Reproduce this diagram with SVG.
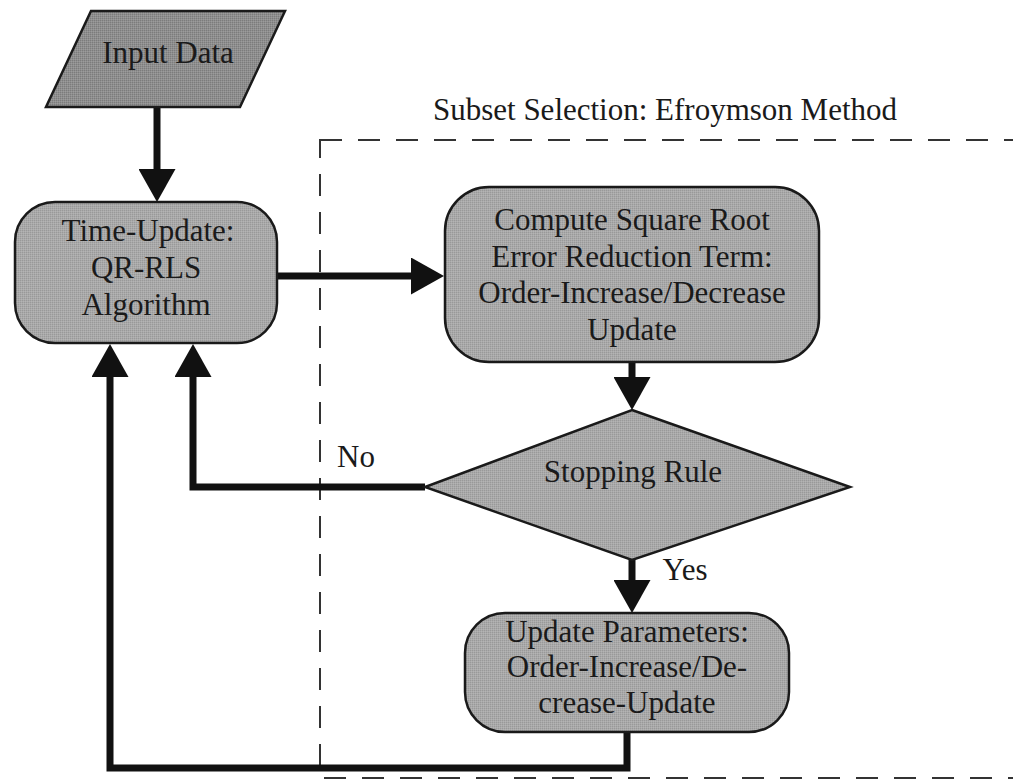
<svg xmlns="http://www.w3.org/2000/svg" width="1013" height="784" viewBox="0 0 1013 784">
  <style>
    .node { fill: url(#grain); stroke: #1a1a1a; stroke-width: 2.5; }
    .dark { fill: url(#grainDark); }
    .lbl { font-family: "Liberation Serif", "Times New Roman", serif; font-size: 31px; fill: #1a1a1a; text-anchor: middle; }
    .edge { fill: none; stroke: #111; stroke-width: 7; stroke-linejoin: miter; }
    .frame { fill: none; stroke: #333; stroke-width: 2; stroke-dasharray: 22 16; }
  </style>
  <defs>
    <!-- halftone-like grey fills -->
    <pattern id="grain" width="2" height="2" patternUnits="userSpaceOnUse">
      <rect width="2" height="2" fill="#a9a9a9"/>
      <rect width="1" height="1" fill="#999999"/>
      <rect x="1" y="1" width="1" height="1" fill="#b4b4b4"/>
    </pattern>
    <pattern id="grainDark" width="2" height="2" patternUnits="userSpaceOnUse">
      <rect width="2" height="2" fill="#8e8e8e"/>
      <rect width="1" height="1" fill="#7c7c7c"/>
      <rect x="1" y="1" width="1" height="1" fill="#9c9c9c"/>
    </pattern>
    <marker id="head" viewBox="0 0 33 37" refX="13" refY="18.5" markerWidth="33" markerHeight="37" markerUnits="userSpaceOnUse" orient="auto">
      <path d="M0,0 L33,18.5 L0,37 Z" fill="#111"/>
    </marker>
  </defs>

  <rect width="1013" height="784" fill="#ffffff"/>

  <!-- subset selection frame -->
  <g id="subset-frame">
    <rect class="frame" x="320" y="140" width="720" height="638"/>
    <text class="lbl" x="665" y="120" font-size="33">Subset Selection: Efroymson Method</text>
  </g>

  <!-- connectors (paths stop 20px short; the marker carries the tip) -->
  <g id="connectors">
    <path class="edge" d="M157,107 V182" marker-end="url(#head)"/>
    <path class="edge" d="M277,276 H424" marker-end="url(#head)"/>
    <path class="edge" d="M632,362 V390" marker-end="url(#head)"/>
    <path class="edge" d="M425,487 H193 V364" marker-end="url(#head)"/>
    <path class="edge" d="M632,560 V593" marker-end="url(#head)"/>
    <path class="edge" d="M627,732 V768 H110 V364" marker-end="url(#head)"/>
    <text class="lbl" x="356" y="467" font-size="30">No</text>
    <text class="lbl" x="685" y="580" font-size="29">Yes</text>
  </g>

  <g id="input-data">
    <polygon class="node dark" points="91,11 285,11 240,107 46,107"/>
    <text class="lbl" x="168" y="63">Input Data</text>
  </g>

  <g id="time-update">
    <rect class="node" x="15" y="202" width="262" height="141" rx="40"/>
    <text class="lbl" x="148" y="241" font-size="32">Time-Update:</text>
    <text class="lbl" x="146" y="278" font-size="32">QR-RLS</text>
    <text class="lbl" x="146" y="315" font-size="32">Algorithm</text>
  </g>

  <g id="error-reduction">
    <rect class="node" x="445" y="187" width="374" height="175" rx="44"/>
    <text class="lbl" x="632" y="230">Compute Square Root</text>
    <text class="lbl" x="632" y="267">Error Reduction Term:</text>
    <text class="lbl" x="632" y="303">Order-Increase/Decrease</text>
    <text class="lbl" x="632" y="340">Update</text>
  </g>

  <g id="stopping-rule">
    <polygon class="node" points="632,410 850,487 632,560 425,487"/>
    <text class="lbl" x="633" y="482">Stopping Rule</text>
  </g>

  <g id="update-parameters">
    <rect class="node" x="465" y="613" width="324" height="119" rx="40"/>
    <text class="lbl" x="627" y="642">Update Parameters:</text>
    <text class="lbl" x="627" y="677">Order-Increase/De-</text>
    <text class="lbl" x="627" y="713">crease-Update</text>
  </g>
</svg>
